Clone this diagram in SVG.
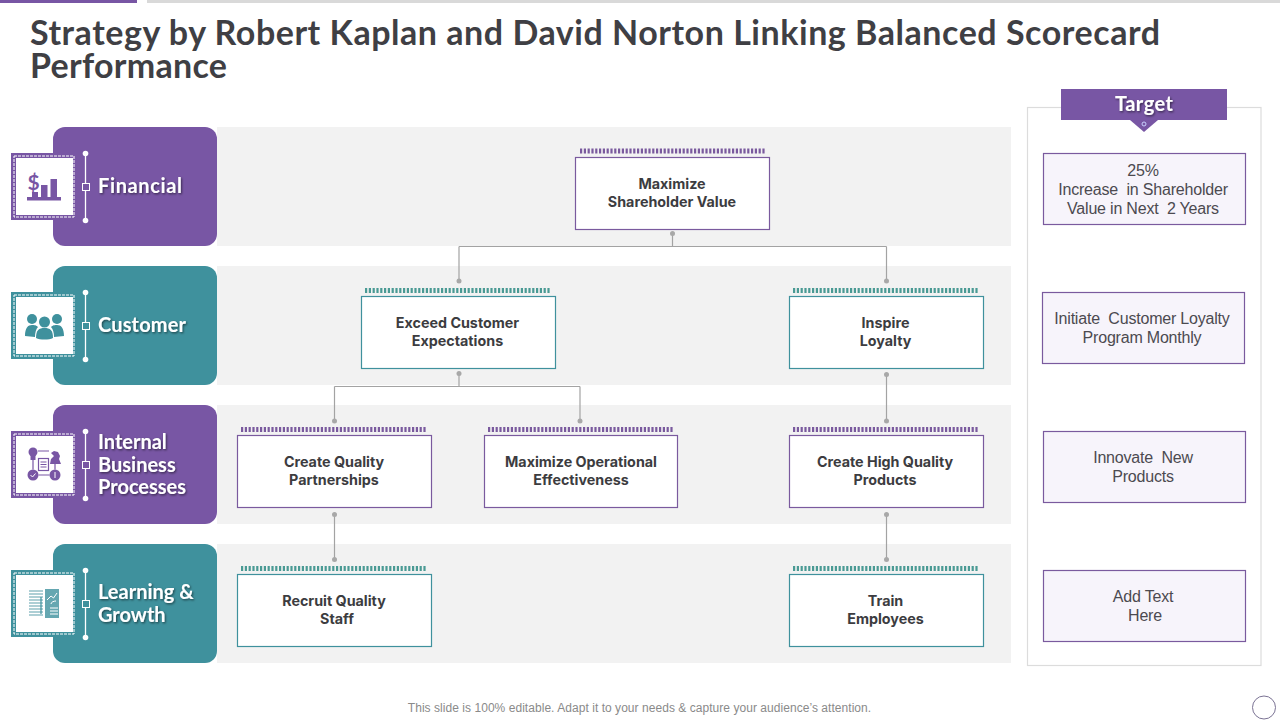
<svg xmlns="http://www.w3.org/2000/svg" width="1280" height="720" viewBox="0 0 1280 720">
<style>
.title{font:700 34px Lato,"Liberation Sans",sans-serif;fill:#3f3f44}
.band{fill:#f2f2f2}
.p{color:#7856a4}.t{color:#3f919d}
.c{fill:currentColor}
.p .b{stroke:#7a5a9e}.t .b{stroke:#3f919d}
.lab{font:700 20px Lato,"Liberation Sans",sans-serif;fill:#fff;filter:url(#sh)}
.node{font:700 14.3px Inter,"Liberation Sans",sans-serif;fill:#3c3c40;text-anchor:middle}
.box{fill:#fff;stroke-width:1.2}
.tick{fill:none;stroke-width:5;stroke-dasharray:2.2 1.6}
.p .tick{stroke:#7a5a9e}.t .tick{stroke:#4a9a94}
.conn path{fill:none;stroke:#a3a3a3;stroke-width:1.2}
.conn circle{fill:#a8a8a8}
.tgt{fill:#f7f4fb;stroke:#7a5a9e;stroke-width:1.2}
.tt{font:16px "Liberation Sans",Arial,sans-serif;letter-spacing:-.2px;fill:#4c4a50;text-anchor:middle;white-space:pre}
.dash{fill:none;stroke:#fff;stroke-width:1;stroke-dasharray:3 1}
.wl{stroke:#fff;stroke-width:1.3}
.ln{fill:none;stroke:currentColor;stroke-width:1.2}
.wh{fill:none;stroke:#fff;stroke-width:1}
</style>
<defs>
<filter id="sh" x="-10%" y="-20%" width="125%" height="150%"><feDropShadow dx="1" dy="1.2" stdDeviation="0.8" flood-color="#000" flood-opacity="0.55"/></filter>
<g id="frame">
<rect class="c" x="11" y="0" width="64" height="67"/>
<rect x="16" y="5" width="57" height="57" fill="#fff"/>
<rect class="dash" x="14" y="3" width="60" height="61"/>
<line class="wl" x1="85.5" y1="0.5" x2="85.5" y2="67.5"/>
<circle cx="85.5" cy="0.5" r="2.8" fill="#fff"/><circle cx="85.5" cy="67.5" r="2.8" fill="#fff"/>
<rect class="c" x="82.5" y="30.5" width="7" height="7" stroke="#fff" stroke-width="1"/>
</g>
</defs>
<rect width="1280" height="720" fill="#fff"/>
<rect width="137" height="3" fill="#7856a4"/><rect x="147" width="1133" height="3" fill="#d9d9d9"/>
<text class="title" x="30" y="45" textLength="1130" lengthAdjust="spacing">Strategy by Robert Kaplan and David Norton Linking Balanced Scorecard</text>
<text class="title" x="30" y="78" textLength="197" lengthAdjust="spacing">Performance</text>

<rect class="band" x="217" y="127" width="794" height="119"/>
<rect class="band" x="217" y="266" width="794" height="119"/>
<rect class="band" x="217" y="405" width="794" height="119"/>
<rect class="band" x="217" y="544" width="794" height="119"/>

<g id="cat-financial" class="p">
<rect class="c" x="53" y="127" width="164" height="119" rx="12"/>
<use href="#frame" y="153"/>
<text x="27.500" y="190" font-family="Lato,'Liberation Sans',sans-serif" font-weight="700" font-size="21" fill="#7856a4">$</text>
<path class="c" d="M27 197h34v3.500H27zM32 192h6v5h-6zM41 185h6.500v12H41zM50.500 179H57v18h-6.500z"/>
<text class="lab" x="98" y="193" textLength="84">Financial</text>
</g>
<g id="cat-customer" class="t">
<rect class="c" x="53" y="266" width="164" height="119" rx="12"/>
<use href="#frame" y="292"/>
<g class="c"><circle cx="32" cy="319" r="5"/><circle cx="57" cy="319" r="5"/><path d="M25 336c0-8 3-11 7-11s5 1 6 2c-2 2-3 6-3 10zM64 336c0-8-3-11-7-11s-5 1-6 2c2 2 3 6 3 10z"/><circle cx="44.500" cy="322" r="5.500"/><path d="M36 338c0-8 3-10 8.500-10s8.500 2 8.500 10c-4 2-13 2-17 0z"/></g>
<text class="lab" x="98" y="332" textLength="88">Customer</text>
</g>
<g id="cat-internal" class="p">
<rect class="c" x="53" y="405" width="164" height="119" rx="12"/>
<use href="#frame" y="431"/>
<circle class="c" cx="33" cy="452" r="4.500"/><path class="c" d="M30.500 456h5v4h-5z"/><circle class="c" cx="33" cy="475" r="5.500"/><circle class="c" cx="55" cy="475" r="5.500"/>
<path class="c" d="M50 464h11l-2-5 1-3-2-4-4-1-3 2 3 3-3 3z"/>
<path class="ln" d="M38 451h11M33 460v9.500M55 464v5.500M38.500 475h11"/>
<rect class="ln" x="38.500" y="458.500" width="10" height="12" fill="#fff"/>
<path class="ln" d="M40.500 462h6M40.500 464.500h6M40.500 467h6"/>
<path class="wh" d="M30.500 475l2 2 3-3.500M55 472v6"/>
<text class="lab"><tspan x="98" y="449">Internal</tspan><tspan x="98" y="472">Business</tspan><tspan x="98" y="494">Processes</tspan></text>
</g>
<g id="cat-learning" class="t">
<rect class="c" x="53" y="544" width="164" height="119" rx="12"/>
<use href="#frame" y="570"/>
<path class="ln" d="M29 591h14M29 594h14M29 597h14M29 600h14M29 603h14M29 606h14M29 609h14M29 612h14M29 615h14" stroke-width="1.800" opacity=".85"/>
<rect class="c" x="45" y="589" width="14" height="29" opacity=".8"/>
<path class="wh" d="M47 600l4-4 2.500 2 3.500-5M51 604c0-2 3-3 5-3M50 608h8M50 611h8M50 614h8"/>
<path class="ln" d="M41 597v17"/>
<text class="lab"><tspan x="98" y="599">Learning &amp;</tspan><tspan x="98" y="622">Growth</tspan></text>
</g>

<g id="connectors" class="conn">
<path d="M672.500 233.500V246.500M459 246.500H886.500M459 246.500V281M886.500 246.500V281"/>
<path d="M459 373.500V386.500M334.500 386.500H580M334.500 386.500V421M580 386.500V421"/>
<path d="M886.500 374V421M334.500 514.500V559.500M886.500 514.500V559.500"/>
<circle cx="672.500" cy="233.500" r="2.500"/><circle cx="459" cy="281" r="2.500"/><circle cx="886.500" cy="281" r="2.500"/>
<circle cx="459" cy="373.500" r="2.500"/><circle cx="334.500" cy="421" r="2.500"/><circle cx="580" cy="421" r="2.500"/>
<circle cx="886.500" cy="374.500" r="2.500"/><circle cx="886.500" cy="421" r="2.500"/>
<circle cx="334.500" cy="514.500" r="2.500"/><circle cx="334.500" cy="559.500" r="2.500"/>
<circle cx="886.500" cy="514.500" r="2.500"/><circle cx="886.500" cy="559.500" r="2.500"/>
</g>

<g id="n-shareholder" class="p"><path class="tick" d="M580 151H765"/><rect class="box b" x="575.500" y="157.500" width="194" height="72"/><text class="node"><tspan x="672" y="189">Maximize</tspan><tspan x="672" y="207">Shareholder Value</tspan></text></g>
<g id="n-exceed" class="t"><path class="tick" d="M365 290.500H551"/><rect class="box b" x="361.500" y="296.500" width="194" height="72"/><text class="node"><tspan x="457.500" y="328">Exceed Customer</tspan><tspan x="457.500" y="346">Expectations</tspan></text></g>
<g id="n-loyalty" class="t"><path class="tick" d="M793 290.500H979"/><rect class="box b" x="789.500" y="296.500" width="194" height="72"/><text class="node"><tspan x="885.500" y="328">Inspire</tspan><tspan x="885.500" y="346">Loyalty</tspan></text></g>
<g id="n-partner" class="p"><path class="tick" d="M241 429.500H427"/><rect class="box b" x="237.500" y="435.500" width="194" height="72"/><text class="node"><tspan x="334" y="467">Create Quality</tspan><tspan x="334" y="485">Partnerships</tspan></text></g>
<g id="n-operational" class="p"><path class="tick" d="M488 429.500H674"/><rect class="box b" x="484.500" y="435.500" width="193" height="72"/><text class="node"><tspan x="581" y="467">Maximize Operational</tspan><tspan x="581" y="485">Effectiveness</tspan></text></g>
<g id="n-products" class="p"><path class="tick" d="M793 429.500H979"/><rect class="box b" x="789.500" y="435.500" width="194" height="72"/><text class="node"><tspan x="885" y="467">Create High Quality</tspan><tspan x="885" y="485">Products</tspan></text></g>
<g id="n-staff" class="t"><path class="tick" d="M241 568.500H427"/><rect class="box b" x="237.500" y="574.500" width="194" height="72"/><text class="node"><tspan x="334" y="606">Recruit Quality</tspan><tspan x="337" y="624">Staff</tspan></text></g>
<g id="n-train" class="t"><path class="tick" d="M793 568.500H979"/><rect class="box b" x="789.500" y="574.500" width="194" height="72"/><text class="node"><tspan x="885.500" y="606">Train</tspan><tspan x="885.500" y="624">Employees</tspan></text></g>

<g id="target-panel">
<rect x="1027.500" y="107.500" width="233.500" height="558" fill="#fff" stroke="#dcdcdc" stroke-width="1.200"/>
<rect x="1061" y="89" width="166" height="31" fill="#7856a4"/>
<path d="M1130 120h28l-14 12z" fill="#7856a4"/>
<circle cx="1144" cy="124" r="2" fill="none" stroke="#c8d0ff" stroke-width="1"/>
<text x="1115" y="111" textLength="58" font-family="Lato,'Liberation Sans',sans-serif" font-weight="700" font-size="20" fill="#fff" filter="url(#sh)">Target</text>
</g>
<g id="t1"><rect class="tgt" x="1043.500" y="153.500" width="202" height="71"/><text class="tt"><tspan x="1143" y="176">25%</tspan><tspan x="1143" y="195">Increase  in Shareholder</tspan><tspan x="1143" y="214">Value in Next  2 Years</tspan></text></g>
<g id="t2"><rect class="tgt" x="1042.500" y="292.500" width="202" height="71"/><text class="tt"><tspan x="1142" y="324">Initiate  Customer Loyalty</tspan><tspan x="1142" y="343">Program Monthly</tspan></text></g>
<g id="t3"><rect class="tgt" x="1043.500" y="431.500" width="202" height="71"/><text class="tt"><tspan x="1143" y="463">Innovate  New</tspan><tspan x="1143" y="482">Products</tspan></text></g>
<g id="t4"><rect class="tgt" x="1043.500" y="570.500" width="202" height="71"/><text class="tt"><tspan x="1143" y="602">Add Text</tspan><tspan x="1145" y="621">Here</tspan></text></g>

<text x="639.500" y="712" text-anchor="middle" font-family="'Liberation Sans',Arial,sans-serif" font-size="12" letter-spacing="0.045" fill="#8a8a8a">This slide is 100% editable. Adapt it to your needs &amp; capture your audience’s attention.</text>
<circle cx="1264" cy="707.500" r="11.500" fill="#fff" stroke="#7b7394" stroke-width="1"/>
</svg>
